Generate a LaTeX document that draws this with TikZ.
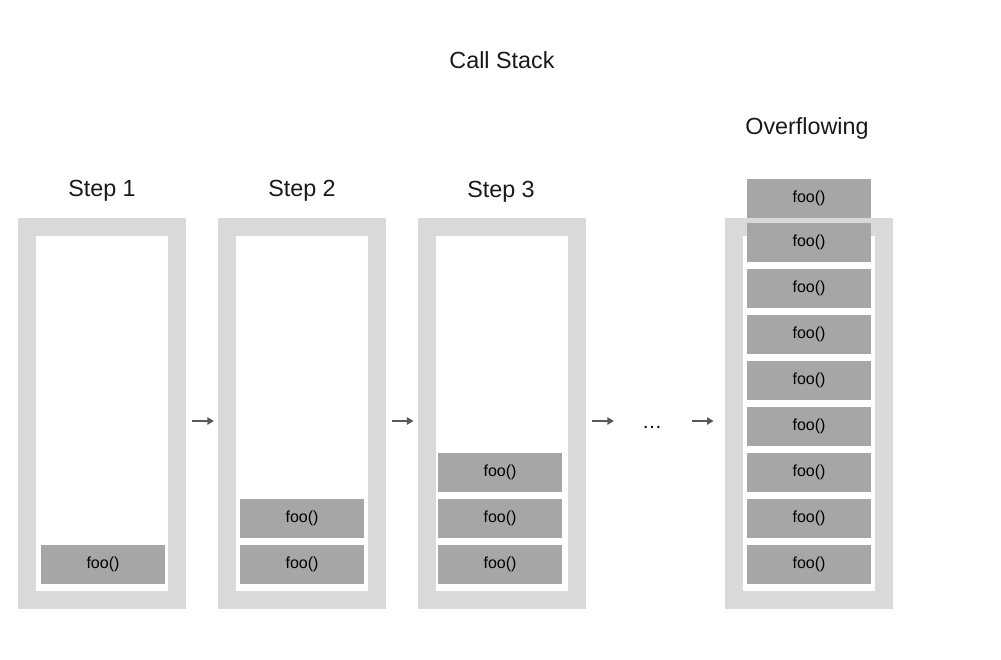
\documentclass[tikz,border=0pt]{standalone}
\usepackage{fontspec}
\setmainfont{Liberation Sans}
\usetikzlibrary{arrows.meta, calc, positioning}

\definecolor{framegray}{HTML}{D9D9D9}
\definecolor{callgray}{HTML}{A6A6A6}
\definecolor{arrowgray}{HTML}{595959}

\tikzset{
    stackframe/.style={draw=framegray, line width=13.5pt, fill=white, minimum width=112.5pt, minimum height=279.75pt, inner sep=0pt},
    call/.style={fill=callgray, minimum width=93pt, minimum height=29.25pt, inner sep=0pt, font=\fontsize{12}{14}\selectfont},
    title/.style={anchor=base, font=\fontsize{17.5}{20}\selectfont, text=black!90},
    flow/.style={arrowgray, line width=1.5pt, -{Triangle[length=5pt, width=5.5pt]}, shorten <=4.5pt, shorten >=3pt}
}

\begin{document}
\begin{tikzpicture}[x=0.75pt, y=-0.75pt]
    \useasboundingbox (0,0) rectangle (1001,660);
    % Title
    \node[title] (head) at (502,69) {Call Stack};
    %
    % Stack frames
    \node[stackframe] (s1) at (102,413.5) {};
    \node[stackframe] (s2) at (302,413) {};
    \node[stackframe] (s3) at (501.5,413.5) {};
    \node[stackframe] (s4) at (809,413.5) {};
    %
    % Step labels
    \node[title] (t1) at (102,196) {Step 1};
    \node[title] (t2) at (302,196) {Step 2};
    \node[title] (t3) at (501,198) {Step 3};
    \node[title] (t4) at (807,135) {Overflowing};
    %
    % Calls on each stack
    \node[call] (a1) at (103,564.5) {foo()};
    \foreach \y [count=\i] in {564.5, 518.5} {
        \node[call] (b\i) at (302,\y) {foo()};
    }
    \foreach \y [count=\i] in {564.5, 518.5, 472.5} {
        \node[call] (c\i) at (500,\y) {foo()};
    }
    \foreach \y [count=\i] in {564.5, 518.5, 472.5, 426.5, 380.5, 334.5, 288.5, 242.5, 198.5} {
        \node[call] (d\i) at (809,\y) {foo()};
    }
    %
    % Arrows between the steps
    \node[anchor=base, font=\fontsize{15}{18}\selectfont, inner sep=0pt] (dots) at (652,428) {\ldots};
    \draw[flow] ($(s1.east)+(0,7.5)$) -- ($(s2.west)+(0,8)$);
    \draw[flow] ($(s2.east)+(0,8)$) -- ($(s3.west)+(0,7.5)$);
    \draw[flow] ($(s3.east)+(0,7.5)$) -- ($(dots.base)+(-34,-7)$);
    \draw[flow, shorten >=8.5pt] ($(dots.base)+(34,-7)$) -- ($(s4.west)+(0,7.5)$);
\end{tikzpicture}
\end{document}
